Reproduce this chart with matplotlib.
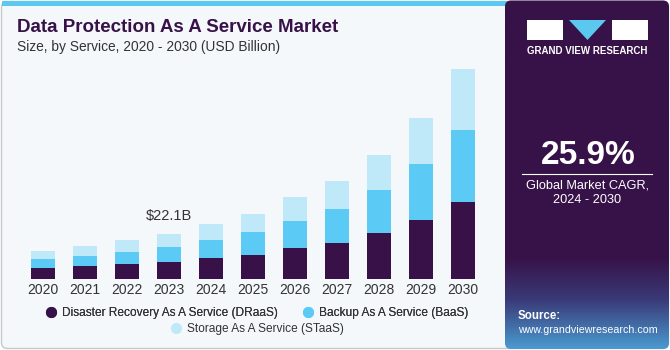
import matplotlib
matplotlib.use("Agg")
import matplotlib.pyplot as plt
import numpy as np
from matplotlib.patches import FancyBboxPatch, Rectangle
from matplotlib.lines import Line2D

plt.rcParams["font.family"] = ["Liberation Sans", "DejaVu Sans"]

years = ["2020", "2021", "2022", "2023", "2024", "2025", "2026", "2027", "2028", "2029", "2030"]
draas = [5.1, 6.1, 7.1, 8.2, 10.0, 11.8, 15.0, 17.8, 22.5, 29.1, 37.9]
baas = [4.6, 5.3, 6.3, 7.5, 9.1, 11.1, 13.7, 16.6, 21.5, 27.8, 36.1]
staas = [4.1, 4.8, 5.5, 6.4, 7.8, 9.2, 11.8, 14.1, 17.4, 22.9, 30.0]
series_names = ["Disaster Recovery As A Service (DRaaS)", "Backup As A Service (BaaS)", "Storage As A Service (STaaS)"]
colors = ["#371147", "#5bcbf5", "#bfe9f9"]
annot_year = "2023"
annot_text = "$22.1B"

W, H = 670, 350
fig = plt.figure(figsize=(W / 100, H / 100), dpi=100)
fig.patch.set_facecolor("white")

def fx(px):
    return px / W

def fy(py):
    return 1 - py / H

# background panel
bg = fig.add_axes([0, 0, 1, 1])
bg.set_xlim(0, W)
bg.set_ylim(H, 0)
bg.axis("off")
bg.add_patch(FancyBboxPatch((1.5, 1.5), W - 3, H - 3, boxstyle="round,pad=0,rounding_size=6",
                            facecolor="#f4f8fb", edgecolor="#c8c8c8", lw=1.0))
bg.add_patch(Rectangle((1.5, 0.5), 505, 5, facecolor="#5bc8f0", edgecolor="none"))

# right panel with gradient
n = 300
cmap_img = np.zeros((n, 1, 3))
top = np.array([0x37, 0x12, 0x48]) / 255
mid = np.array([0x3a, 0x3a, 0x78]) / 255
bot = np.array([0x4a, 0x9a, 0xd0]) / 255
for i in range(n):
    g = i / (n - 1)
    if g < 0.74:
        c = top
    elif g < 0.86:
        t = (g - 0.74) / 0.12
        c = top * (1 - t) + mid * t
    else:
        t = (g - 0.86) / 0.14
        c = mid * (1 - t) + bot * t
    cmap_img[i, 0] = c
im = bg.imshow(cmap_img, extent=(505, 669, 349, 0.5), aspect="auto", zorder=2)
clip = FancyBboxPatch((505, 0.5), 164, 348.5, boxstyle="round,pad=0,rounding_size=6",
                      facecolor="none", edgecolor="none", transform=bg.transData)
bg.add_patch(clip)
im.set_clip_path(clip)

# logo blocks
bg.add_patch(Rectangle((527, 20), 36, 20, facecolor="white", edgecolor="none", zorder=3))
bg.add_patch(plt.Polygon([[569, 20], [606, 20], [587.5, 40]], closed=True, facecolor="#5bc8f0", edgecolor="none", zorder=3))
bg.add_patch(Rectangle((612, 20), 36, 20, facecolor="white", edgecolor="none", zorder=3))
bg.text(587.5, 51, "GRAND VIEW RESEARCH", color="white", fontsize=7, fontweight="bold",
        ha="center", va="center", zorder=4)
bg.text(588, 155, "25.9%", color="white", fontsize=24, fontweight="bold", ha="center", va="center", zorder=4)
bg.plot([522, 652], [173.5, 173.5], color="white", lw=0.8, zorder=4)
bg.text(587.5, 185, "Global Market CAGR,", color="white", fontsize=9.2, ha="center", va="center", zorder=4)
bg.text(587.5, 200, "2024 - 2030", color="white", fontsize=9.2, ha="center", va="center", zorder=4)
bg.text(518, 316, "Source:", color="white", fontsize=8.3, fontweight="bold", ha="left", va="center", zorder=4)
bg.text(518, 330, "www.grandviewresearch.com", color="white", fontsize=7.7, ha="left", va="center", zorder=4)

# titles
bg.text(17, 27, "Data Protection As A Service Market", color="#371147", fontsize=13.5,
        fontweight="bold", ha="left", va="center")
bg.text(17, 47, "Size, by Service, 2020 - 2030 (USD Billion)", color="#333333", fontsize=9.9,
        ha="left", va="center")

# bar axes
ax_left, ax_right = 22, 484
base_px = 278.5
ymax = 110
top_px = base_px - ymax / 0.497
ax = fig.add_axes([fx(ax_left), fy(base_px), fx(ax_right - ax_left), (base_px - top_px) / H])
ax.set_facecolor("none")
x = np.arange(len(years))
bottom = np.zeros(len(years))
for vals, c, name in zip([draas, baas, staas], colors, series_names):
    ax.bar(x, vals, width=0.57, bottom=bottom, color=c, edgecolor="none", label=name, zorder=2)
    bottom = bottom + np.array(vals)
ax.set_xlim(-0.5, len(years) - 0.5)
ax.set_ylim(0, ymax)
ax.set_xticks(x)
ax.set_xticklabels(years, fontsize=10, color="#333333")
ax.tick_params(axis="x", length=0, pad=3)
ax.set_yticks([])
for s in ax.spines.values():
    s.set_visible(False)
ai = years.index(annot_year)
ax.text(ai, bottom[ai] + 5.5, annot_text, ha="center", va="bottom", fontsize=10.5, color="#333333")

# legend (two rows: 2 + 1 entries)
handles = [Line2D([], [], marker="o", ls="none", markersize=8, markerfacecolor=c, markeredgecolor="none") for c in colors]
leg1 = fig.legend(handles[:2], series_names[:2], loc="center", bbox_to_anchor=(fx(256), fy(313)), ncol=2,
                  frameon=False, fontsize=8.6, handletextpad=0.3, columnspacing=1.9, handlelength=1.2,
                  labelcolor="#333333", borderpad=0)
leg2 = fig.legend(handles[2:], series_names[2:], loc="center", bbox_to_anchor=(fx(256), fy(329)), ncol=1,
                  frameon=False, fontsize=8.6, handletextpad=0.3, handlelength=1.2,
                  labelcolor="#333333", borderpad=0)
fig.add_artist(leg1)

fig.savefig("out.png", dpi=100, facecolor=fig.get_facecolor())
